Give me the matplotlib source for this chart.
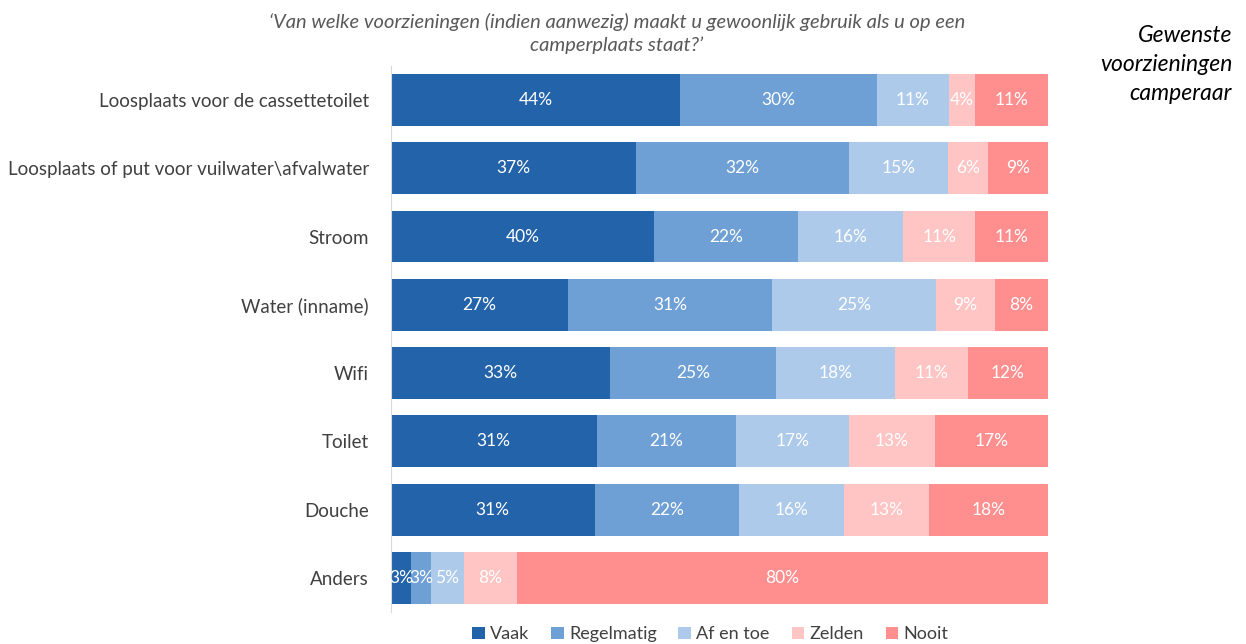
import matplotlib.pyplot as plt
import numpy as np

plt.rcParams['font.family'] = ['Lato', 'DejaVu Sans']

categories = ['Loosplaats voor de cassettetoilet',
              'Loosplaats of put voor vuilwater\\afvalwater',
              'Stroom', 'Water (inname)', 'Wifi', 'Toilet', 'Douche', 'Anders']
series = ['Vaak', 'Regelmatig', 'Af en toe', 'Zelden', 'Nooit']
vaak = [44, 37, 40, 27, 33, 31, 31, 3]
regelmatig = [30, 32, 22, 31, 25, 21, 22, 3]
af_en_toe = [11, 15, 16, 25, 18, 17, 16, 5]
zelden = [4, 6, 11, 9, 11, 13, 13, 8]
nooit = [11, 9, 11, 8, 12, 17, 18, 80]
colors = ['#2363AA', '#6FA0D5', '#ADCAEB', '#FFC4C4', '#FF8F8F']

values = np.array([vaak, regelmatig, af_en_toe, zelden, nooit], dtype=float)
totals = values.sum(axis=0)
shares = values / totals

fig = plt.figure(figsize=(12.46, 6.44), dpi=100)
ax = fig.add_axes([0.3138, 0.0497, 0.527, 0.848])

y = np.arange(len(categories))
left = np.zeros(len(categories))
for i, name in enumerate(series):
    bars = ax.barh(y, shares[i], left=left, height=0.76, color=colors[i], label=name)
    for j, b in enumerate(bars):
        ax.text(left[j] + shares[i][j] / 2, y[j], f'{int(values[i][j])}%',
                ha='center', va='center', color='white', fontsize=12.5)
    left += shares[i]

ax.set_xlim(0, 1)
ax.set_ylim(len(categories) - 0.5, -0.5)
ax.set_yticks(y)
ax.set_yticklabels(categories, fontsize=13.5, color='#404040')
ax.tick_params(axis='y', length=0, pad=16)
ax.set_xticks([])
for s in ['top', 'right', 'bottom']:
    ax.spines[s].set_visible(False)
ax.spines['left'].set_color('#D9D9D9')

fig.text(0.495, 0.966, '\u2018Van welke voorzieningen (indien aanwezig) maakt u gewoonlijk gebruik als u op een',
         ha='center', va='center', style='italic', fontsize=14.5, color='#595959')
fig.text(0.495, 0.930, 'camperplaats staat?\u2019',
         ha='center', va='center', style='italic', fontsize=14.5, color='#595959')

fig.text(0.989, 0.900, 'Gewenste\nvoorzieningen\ncamperaar', ha='right', va='center',
         style='italic', fontsize=16.5, color='black', linespacing=1.45)

fig.legend(loc='center', bbox_to_anchor=(0.57, 0.015), ncol=5, frameon=False,
           fontsize=13, handlelength=0.7, handleheight=0.7, handletextpad=0.3,
           columnspacing=1.2, labelcolor='#404040')

fig.savefig('out.png', dpi=100)
